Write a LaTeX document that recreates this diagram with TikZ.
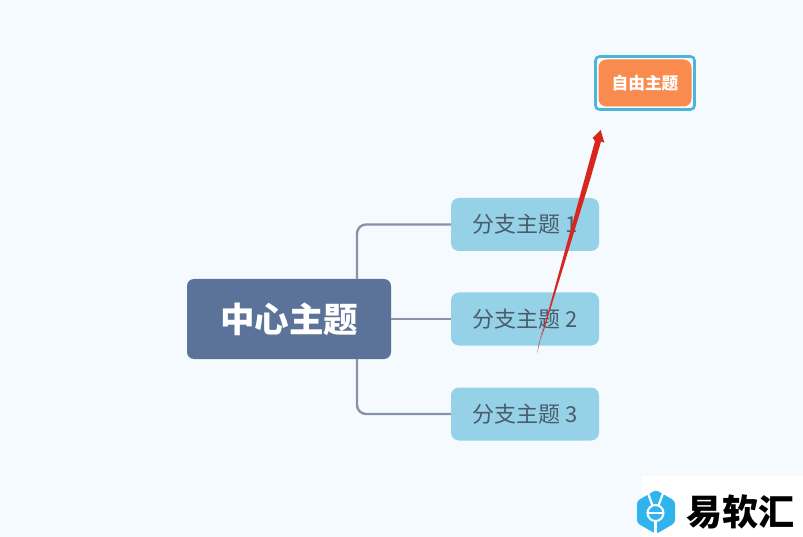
\documentclass[tikz,border=0pt]{standalone}
\usepackage{fontspec}
\setmainfont{Noto Sans CJK SC}
\definecolor{bgc}{HTML}{F4FAFE}
\definecolor{centerc}{HTML}{5B7299}
\definecolor{branchc}{HTML}{95D2E8}
\definecolor{branchtxt}{HTML}{4A5B6B}
\definecolor{linkc}{HTML}{8793A8}
\definecolor{orangec}{HTML}{F98B4E}
\definecolor{framec}{HTML}{4DB5DA}
\definecolor{redc}{HTML}{D8261F}
\definecolor{logoc}{HTML}{2FB4EE}
\tikzset{
  x=1pt,y=-1pt,
  centernode/.style={fill=centerc,rounded corners=7pt,minimum width=204pt,minimum height=80pt,inner sep=0pt,text=white,font=\bfseries\fontsize{34.5}{38}\selectfont},
  branchnode/.style={fill=branchc,rounded corners=8pt,minimum width=148pt,minimum height=53pt,inner sep=0pt,text=branchtxt,font=\fontsize{22}{25}\selectfont},
  floatnode/.style={fill=orangec,rounded corners=8pt,minimum width=93pt,minimum height=47pt,inner sep=0pt,text=white,font=\bfseries\fontsize{16.7}{20}\selectfont},
  framenode/.style={draw=framec,line width=2.6pt,fill=bgc,rounded corners=4pt,minimum width=99pt,minimum height=53pt,inner sep=0pt},
  linkline/.style={draw=linkc,line width=2.4pt,rounded corners=9pt},
  logotext/.style={inner sep=0pt,text=black,font=\bfseries\fontsize{36}{40}\selectfont}
}
\begin{document}
\begin{tikzpicture}
\useasboundingbox (0,0) rectangle (803,537);
\fill[bgc] (0,0) rectangle (803,537);
% nodes
\node[centernode] (c) at (289,319) {中心主题};
\node[branchnode] (b1) at (525,224.5) {分支主题 1};
\node[branchnode] (b2) at (525,319) {分支主题 2};
\node[branchnode] (b3) at (525,414) {分支主题 3};
% connectors
\coordinate (up) at (357,279);
\coordinate (down) at (357,359);
\draw[linkline] (up) |- (b1.west);
\draw[linkline] (c.east) -- (b2.west);
\draw[linkline] (down) |- (b3.west);
% floating topic
\node[framenode] (ff) at (645,83) {};
\node[floatnode] (f) at (645,83) {自由主题};
% red arrow
\coordinate (astart) at (537,354);
\coordinate (atip) at (600.7,130);
\fill[redc!70!gray] (astart) -- (538.5,345) -- (545,320) -- cycle;
\fill[redc] (541,338) -- (584.3,180) -- (595,141) -- (592.7,138) -- (atip) -- (604.3,142.7) -- (601,141.5) -- (590,180) -- (544,330) -- cycle;
% watermark
\fill[white] (642,476) rectangle (803,537);
\fill[logoc,rounded corners=3pt] (656,490) -- (675,501) -- (675,523) -- (656,534) -- (637,523) -- (637,501) -- cycle;
\draw[white,line width=2pt] (655.5,513) circle (8);
\draw[white,line width=1.8pt] (648,513) -- (663,513);
\draw[white,line width=2.4pt] (655.5,521) -- (655.5,535);
\draw[white,line width=2.2pt] (647.5,492) -- (652.5,505.5) (663.5,492) -- (658.5,505.5);
\draw[white,line width=2.2pt] (647.5,492) -- (651,489) (663.5,492) -- (660,489);
\node[logotext,anchor=west] (logo) at (686,512) {易软汇};
\end{tikzpicture}
\end{document}
